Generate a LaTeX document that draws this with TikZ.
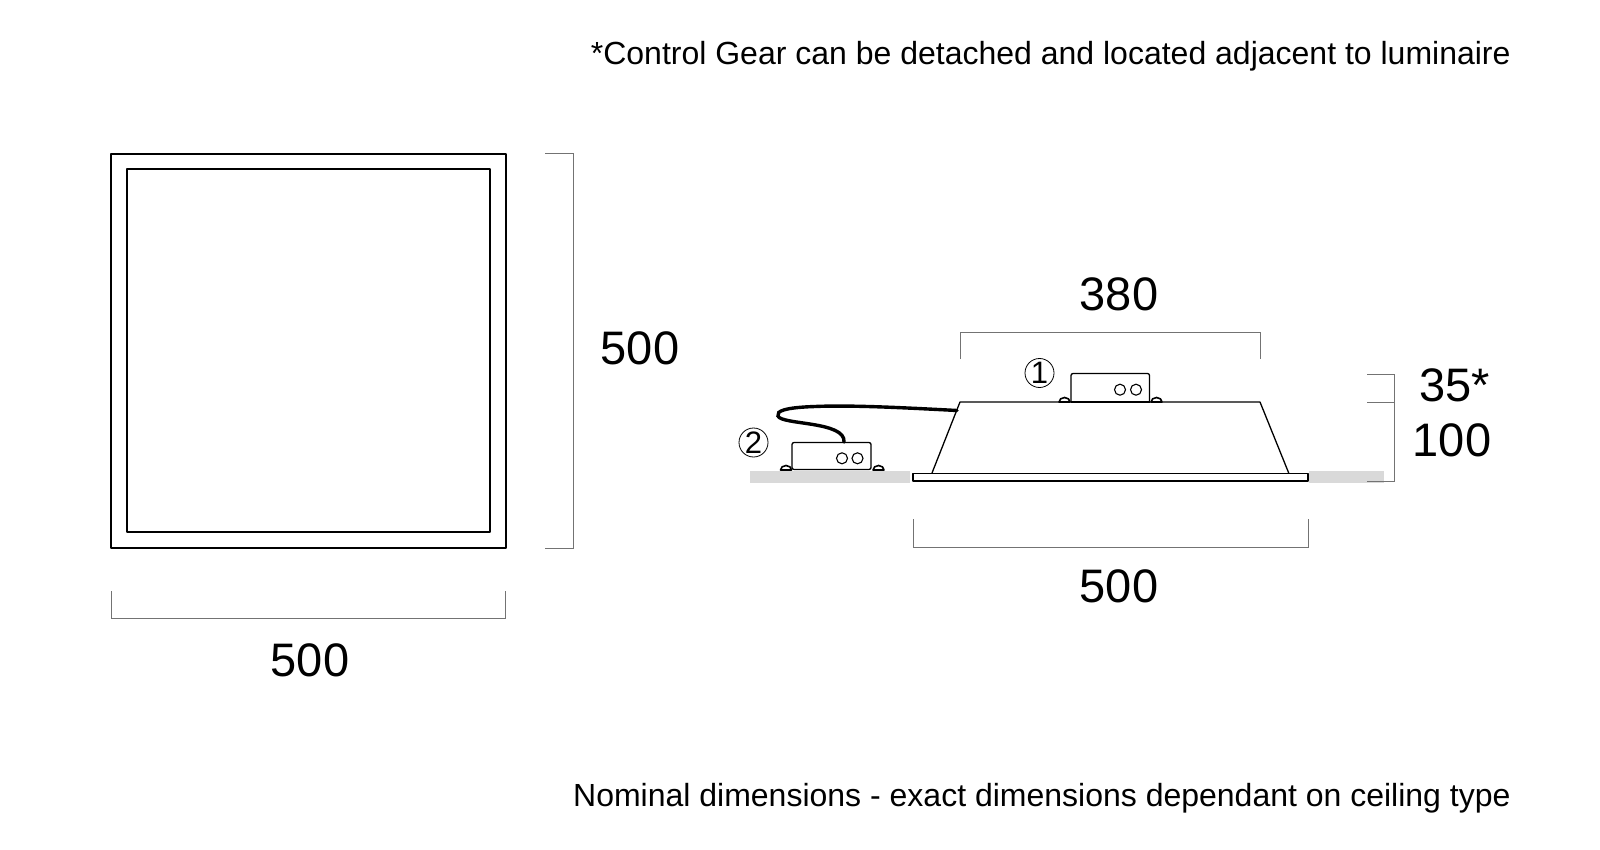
\documentclass[tikz,border=0pt]{standalone}
\usepackage{fontspec}
\setmainfont{Liberation Sans}
\tikzset{
  x=0.5pt,y=-0.5pt,
  obj/.style={draw=black,line width=0.65pt,line join=round},
  dim/.style={draw=black!55,line width=0.5pt},
  big/.style={font=\fontsize{23.5}{28}\selectfont,inner sep=0pt},
  note/.style={font=\fontsize{16}{18}\selectfont,inner sep=0pt,anchor=base east},
  tag/.style={draw=black,line width=0.4pt,circle,minimum size=14.5pt,inner sep=0pt,font=\fontsize{15.5}{16}\selectfont},
  hole/.style={draw=black,line width=0.55pt},
  foot/.style={draw=black,line width=0.8pt,fill=white,line join=round},
  ceil/.style={fill=black!15,draw=none}
}
\begin{document}
\begin{tikzpicture}
\useasboundingbox (0,0) rectangle (1600,850);
% plan view
\draw[obj] (111,154) rectangle (506,548);
\draw[obj] (127,169) rectangle (490,532);
\draw[dim] (545,154) -- (573,154) -- (573,548) -- (545,548);
\draw[dim] (111,591) -- (111,618.5) -- (505.5,618.5) -- (505.5,591);
\node[big] (planw) at (310,660) {500};
\node[big] (planh) at (640,348) {500};
% ceiling
\fill[ceil] (750,471) rectangle (910,483);
\fill[ceil] (1309,471) rectangle (1384,483);
% luminaire
\draw[obj] (932,473) -- (960,402) -- (1260,402) -- (1288.7,473);
\draw[obj] (913,473.5) rectangle (1308,481);
% cable
\draw[black,line width=1.7pt,line cap=round] (957,410.5) .. controls (900,407.5) and (850,405) .. (815,406.5) .. controls (785,407.5) and (776,411) .. (778,416) .. controls (781,425) and (846,421) .. (844,442);
% gear on luminaire
\draw[obj,rounded corners=1pt] (1071,402) -- (1071,373.5) -- (1149.5,373.5) -- (1149.5,402);
\draw[black,line width=1pt] (1071,401.5) -- (1149.5,401.5);
\draw[hole] (1120,389.7) circle (5.5);
\draw[hole] (1136,389.7) circle (5.5);
\draw[foot] (1059,402) arc[start angle=180,end angle=360,x radius=5.5,y radius=4.5] -- cycle;
\draw[foot] (1151,402) arc[start angle=180,end angle=360,x radius=5.5,y radius=4.5] -- cycle;
% detached gear
\draw[obj,rounded corners=1pt] (792,469.5) -- (792,442.5) -- (871,442.5) -- (871,469.5) -- cycle;
\draw[hole] (842,458.3) circle (5.5);
\draw[hole] (857.5,458.3) circle (5.5);
\draw[foot] (780.5,470) arc[start angle=180,end angle=360,x radius=5.5,y radius=4.5] -- cycle;
\draw[foot] (873,470) arc[start angle=180,end angle=360,x radius=5.5,y radius=4.5] -- cycle;
% dimensions
\draw[dim] (960,359) -- (960,332) -- (1260,332) -- (1260,359);
\draw[dim] (913,519) -- (913,547) -- (1308,547) -- (1308,519);
\draw[dim] (1367,374) -- (1394,374) -- (1394,481) -- (1367,481);
\draw[dim] (1367,402) -- (1394,402);
\node[big] (topw) at (1119,294) {380};
\node[big] (botw) at (1119,586) {500};
\node[big] (ha) at (1454.5,385) {35*};
\node[big] (hb) at (1452,440) {100};
\node[tag] (one) at (1039.5,373) {1};
\node[tag] (two) at (753.5,442.5) {2};
% notes
\node[note] (n1) at (1511,64.5) {*Control Gear can be detached and located adjacent to luminaire};
\node[note] (n2) at (1511,806) {Nominal dimensions - exact dimensions dependant on ceiling type};
\end{tikzpicture}
\end{document}
